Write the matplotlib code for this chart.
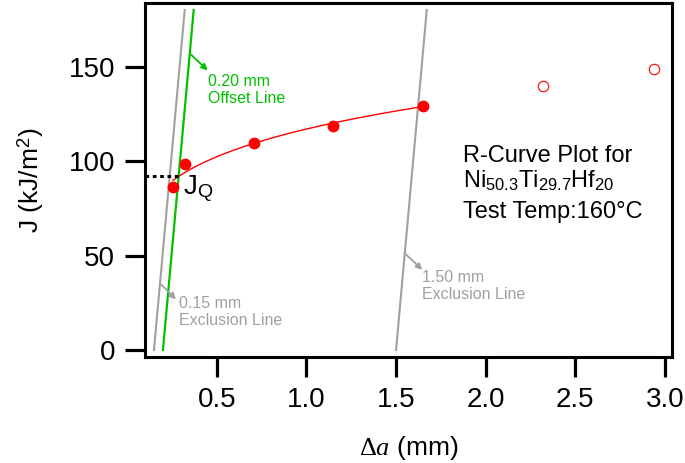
import numpy as np
import matplotlib
matplotlib.use('Agg')
import matplotlib.pyplot as plt
from matplotlib.patches import FancyArrowPatch

plt.rcParams['font.family'] = ['Liberation Sans', 'DejaVu Sans']
plt.rcParams['mathtext.fontset'] = 'custom'
plt.rcParams['mathtext.rm'] = 'Liberation Serif'
plt.rcParams['mathtext.it'] = 'Liberation Serif:italic'
plt.rcParams['mathtext.sf'] = 'Liberation Sans'

# filled points used for the fit
da = [0.255, 0.323, 0.708, 1.147, 1.652]
J = [86.5, 98.3, 109.6, 118.7, 129.3]
# open points (excluded)
da_ex = [2.317, 2.938]
J_ex = [139.8, 148.6]

slope = 1050.0          # 2*sigma_Y, kJ/m^2 per mm
excl_lo = 0.15
offset = 0.20
excl_hi = 1.50
J_top = 180.0

red = '#ff0000'
green = '#00c000'
gray = '#a0a0a0'

fig = plt.figure(figsize=(6.85, 4.63), dpi=100)
ax = fig.add_axes([0.2117, 0.229, 0.7693, 0.7645])
ax.set_xlim(0.100, 3.039)
ax.set_ylim(-3.7, 183.7)

# construction lines
jj = np.array([0.0, J_top])
ax.plot(excl_lo + jj / slope, jj, color=gray, lw=1.5, zorder=2)
ax.plot(offset + jj / slope, jj, color=green, lw=1.6, zorder=2)
ax.plot(excl_hi + jj / slope, jj, color=gray, lw=1.5, zorder=2)

# power law fit J = C * da^n
n, lnC = np.polyfit(np.log(da), np.log(J), 1)
C = np.exp(lnC)
xf = np.linspace(da[0], da[-1], 200)
ax.plot(xf, C * xf ** n, color=red, lw=1.0, zorder=3)
ax.plot(da, J, 'o', color=red, ms=7.5, mec=red, zorder=4)
ax.plot(da_ex, J_ex, 'o', mfc='none', mec=red, ms=7.5, mew=0.8, zorder=4)

# JQ = intersection of offset line with fit
lo, hi = offset + 1e-6, 1.0
for _ in range(60):
    mid = 0.5 * (lo + hi)
    if slope * (mid - offset) - C * mid ** n < 0:
        lo = mid
    else:
        hi = mid
xq = 0.5 * (lo + hi)
jq = C * xq ** n
ax.plot([ax.get_xlim()[0], xq], [jq, jq], color='black', lw=2.2,
        linestyle=(0, (1.2, 1.2)), zorder=3)
ax.text(0.31, 82.0, r'J$_\mathsf{Q}$', fontsize=20, va='baseline', ha='left')


def draw_arrow(x0, j0, dx_px, dy_px, col):
    xs = x0 + j0 / slope
    p0 = ax.transData.transform((xs, j0))
    p1 = p0 + np.array([dx_px, -dy_px])
    a = FancyArrowPatch(posA=tuple(p0), posB=tuple(p1), transform=None,
                        arrowstyle='-|>', color=col, lw=1.3,
                        mutation_scale=9, shrinkA=0, shrinkB=0, zorder=5)
    fig.patches.append(a)


draw_arrow(offset, 157.0, 18, 17, green)
draw_arrow(excl_lo, 35.3, 16, 16, gray)
draw_arrow(excl_hi, 51.2, 17.5, 16.5, gray)

ax.text(0.452, 146.0, '0.20 mm\nOffset Line', color=green, fontsize=11.5,
        va='top', ha='left', linespacing=1.15)
ax.text(0.290, 28.5, '0.15 mm\nExclusion Line', color=gray, fontsize=11.5,
        va='top', ha='left', linespacing=1.15)
ax.text(1.643, 42.3, '1.50 mm\nExclusion Line', color=gray, fontsize=11.5,
        va='top', ha='left', linespacing=1.15)

ax.text(1.873, 99.5, 'R-Curve Plot for', fontsize=17, va='baseline')
ax.text(1.873, 85.8, r'Ni$_\mathsf{50.3}$Ti$_\mathsf{29.7}$Hf$_\mathsf{20}$',
        fontsize=17, va='baseline')
ax.text(1.873, 69.9, 'Test Temp:160°C', fontsize=17, va='baseline')

ax.set_xticks([0.5, 1.0, 1.5, 2.0, 2.5, 3.0])
ax.set_yticks([0, 50, 100, 150])
ax.tick_params(direction='out', length=14.5, width=2.3, labelsize=20, pad=7,
               top=False, right=False)
for s in ax.spines.values():
    s.set_linewidth(2.2)

ax.set_xlabel(r'$\Delta a$ (mm)', fontsize=19, labelpad=15)
ax.set_ylabel(r'J (kJ/m$^\mathsf{2}$)', fontsize=19, labelpad=16)

fig.savefig('out.png', dpi=100)
